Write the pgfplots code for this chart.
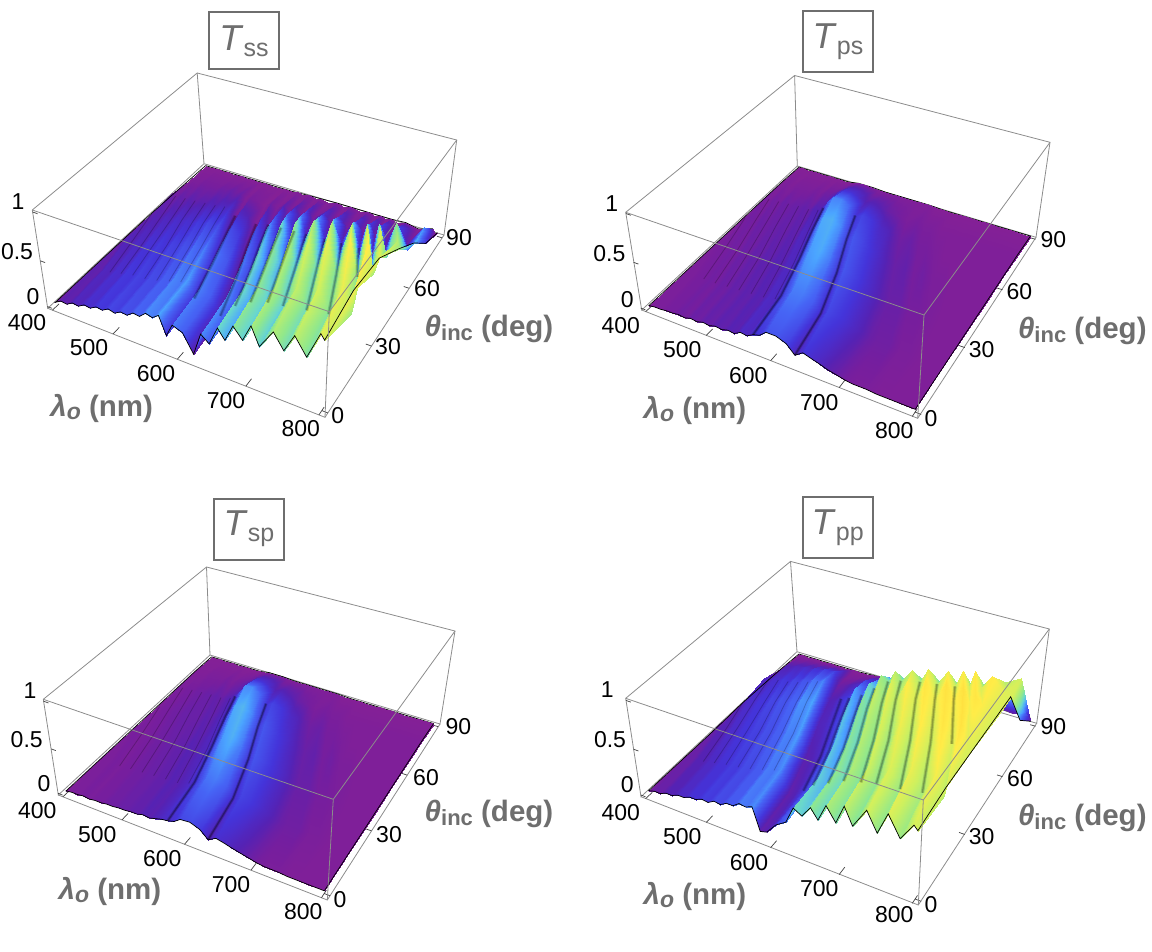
\documentclass[border=0pt]{standalone}
\usepackage{fontspec}
\usepackage{pgfplots}
\usepackage{pgfplotstable}
\pgfplotsset{compat=1.18}
\setmainfont{Liberation Sans}
\definecolor{labgray}{RGB}{110,110,110}
\definecolor{boxgray}{RGB}{140,140,140}

% grid follows the interference fringes: l = wavelength, t = angle, then the four transmittances
\pgfplotstableread{
l t ss ps sp pp
400 90 0 0 0 0
400 90 0 0 0 0
400 90 0 0 0 0
400 90 0 0 0 0
400 90 0 0 0 0
400 90 0 0 0 0
400 90 0 0 0 0
407 90 0 0 0 0
416 90 0 0 0 0
424 90 0 0 0 0
433 90 0 0 0 0
442 90 0 0 0 0
450 90 0 0 0 0
459 90 0 0 0 0
468 90 0 0 0 0
476 90 0 0 0 0
485 90 0 0 0 0
494 90 0 0 0 0
502 90 0 .01 .01 0
511 90 0 .02 .02 0
524 90 0 .02 .02 0
537 90 0 .02 .02 .01
547 90 0 .01 .01 .02
558 90 0 .01 .01 .01
569 90 .01 .01 .01 .02
578 90 0 .01 .01 .01
588 90 .01 .01 .01 .02
599 90 0 .01 .01 .01
610 90 .01 .01 .01 .02
619 90 0 .01 .01 .01
636 90 .02 .01 .01 .02
648 90 0 0 0 .01
660 90 .02 0 0 .03
674 90 0 0 0 .01
688 90 .02 0 0 .03
700 90 0 0 0 .01
710 90 .02 0 0 .04
719 90 0 0 0 .02
727 90 .02 0 0 .05
737 90 0 0 0 .03
750 90 .03 0 0 .06
770 90 0 0 0 .05
792 90 .05 0 0 .10
797 90 0 0 0 .08
800 90 .02 0 0 .02
400 78 .01 .01 .01 .02
400 78 .01 .01 .01 .02
400 78 .01 .01 .01 .02
400 78 .01 .01 .01 .02
400 78 .01 .01 .01 .02
400 78 .01 .01 .01 .02
400 78 .01 .01 .01 .02
409 78 .02 .02 .01 .08
418 78 .02 .01 .01 .08
426 78 .03 .02 .02 .10
435 78 .03 .02 .02 .10
444 78 .03 .02 .02 .12
452 78 .03 .02 .02 .11
461 78 .04 .03 .03 .14
470 78 .04 .02 .02 .14
479 78 .05 .04 .03 .17
487 78 .04 .04 .04 .16
496 78 .05 .06 .06 .18
505 78 .01 .11 .10 .04
513 78 .03 .14 .14 .05
526 78 .02 .14 .14 .08
539 78 0 .12 .12 .11
550 78 .04 .08 .08 .18
560 78 .01 .09 .09 .16
572 78 .07 .08 .08 .24
580 78 .02 .07 .07 .22
591 78 .09 .05 .05 .30
602 78 .02 .04 .04 .28
612 78 .11 .03 .03 .34
622 78 .02 .02 .02 .32
639 78 .12 .03 .03 .38
651 78 .02 .02 .02 .36
663 78 .13 .02 .02 .42
677 78 .03 .01 .01 .40
692 78 .14 .01 .01 .46
703 78 .03 .01 .01 .44
713 78 .16 .01 .01 .50
722 78 .03 .01 .01 .48
730 78 .18 .01 .01 .54
740 78 .04 .01 .01 .52
753 78 .20 .01 .01 .60
773 78 .05 .01 .01 .62
795 78 .30 .01 .01 .70
800 78 .12 .01 .01 .40
800 78 .12 .01 .01 .25
400 66 .02 .01 .01 .03
400 66 .02 .01 .01 .03
400 66 .02 .01 .01 .03
400 66 .02 .01 .01 .03
400 66 .02 .01 .01 .03
401 66 .05 .03 .02 .10
409 66 .04 .02 .02 .10
418 66 .06 .04 .03 .13
427 66 .05 .03 .03 .13
436 66 .07 .05 .04 .16
445 66 .06 .04 .04 .15
454 66 .07 .05 .05 .19
463 66 .07 .05 .05 .18
472 66 .09 .06 .06 .22
481 66 .08 .05 .05 .22
490 66 .10 .08 .07 .27
498 66 .10 .08 .08 .26
507 66 .12 .12 .12 .29
516 66 .03 .22 .21 .08
525 66 .10 .29 .30 .09
538 66 .08 .29 .30 .14
552 66 .01 .25 .25 .18
562 66 .12 .15 .15 .32
573 66 .05 .18 .18 .26
585 66 .19 .16 .16 .42
594 66 .06 .14 .14 .38
604 66 .24 .11 .11 .55
616 66 .07 .09 .09 .50
627 66 .28 .06 .06 .64
636 66 .08 .04 .04 .55
653 66 .31 .05 .05 .70
666 66 .09 .03 .03 .60
678 66 .34 .03 .03 .76
692 66 .10 .02 .02 .63
708 66 .37 .01 .01 .80
719 66 .11 .01 .01 .66
730 66 .40 .01 .01 .84
739 66 .12 .01 .01 .70
747 66 .44 .01 .01 .88
757 66 .14 .01 .01 .72
771 66 .50 .01 .01 .88
791 66 .25 .01 .01 .74
800 66 .35 .01 .01 .72
800 66 .35 .01 .01 .72
800 66 .35 .01 .01 .72
400 52 .03 .01 .01 .04
400 52 .03 .01 .01 .04
400 52 .03 .01 .01 .04
400 52 .03 .01 .01 .04
405 52 .06 .03 .02 .09
414 52 .08 .04 .03 .12
423 52 .07 .03 .03 .12
432 52 .10 .05 .04 .15
442 52 .09 .04 .04 .15
451 52 .12 .05 .05 .19
460 52 .11 .05 .05 .18
469 52 .13 .06 .05 .22
478 52 .12 .05 .05 .21
488 52 .16 .07 .07 .25
497 52 .15 .06 .06 .25
506 52 .19 .10 .08 .31
515 52 .17 .09 .10 .30
524 52 .20 .15 .15 .33
534 52 .08 .26 .25 .09
543 52 .20 .34 .34 .10
557 52 .16 .35 .36 .14
570 52 .03 .30 .30 .20
581 52 .22 .17 .17 .38
592 52 .12 .22 .22 .27
604 52 .34 .19 .19 .50
614 52 .17 .16 .16 .44
625 52 .43 .13 .13 .66
637 52 .20 .10 .10 .55
648 52 .50 .07 .07 .76
658 52 .23 .05 .05 .62
675 52 .56 .06 .06 .85
688 52 .26 .03 .03 .70
701 52 .60 .04 .04 .92
716 52 .28 .02 .02 .75
731 52 .64 .02 .02 .96
743 52 .30 .01 .01 .80
754 52 .68 .01 .01 .97
764 52 .32 .01 .01 .82
772 52 .70 .01 .01 .92
783 52 .42 .01 .01 .84
797 52 .62 .01 .01 .72
800 52 .55 .01 .01 .72
800 52 .55 .01 .01 .72
800 52 .55 .01 .01 .72
800 52 .55 .01 .01 .72
400 36 .03 .01 .01 .03
400 36 .03 .01 .01 .03
401 36 .05 .02 .02 .05
411 36 .09 .03 .03 .08
420 36 .08 .03 .02 .08
430 36 .11 .04 .03 .12
439 36 .10 .03 .03 .12
449 36 .14 .05 .04 .15
458 36 .13 .04 .04 .15
468 36 .16 .06 .05 .18
478 36 .14 .05 .05 .17
487 36 .18 .07 .06 .21
497 36 .17 .06 .06 .20
506 36 .21 .08 .08 .24
516 36 .20 .07 .07 .24
525 36 .26 .10 .09 .29
535 36 .24 .10 .10 .28
544 36 .28 .16 .16 .32
554 36 .12 .26 .25 .07
563 36 .27 .32 .32 .08
578 36 .22 .34 .35 .12
592 36 .04 .28 .28 .22
604 36 .28 .15 .15 .38
615 36 .18 .22 .22 .30
627 36 .42 .19 .19 .50
637 36 .27 .16 .16 .42
648 36 .52 .13 .13 .62
661 36 .33 .10 .10 .50
672 36 .62 .07 .07 .72
683 36 .37 .05 .05 .55
701 36 .70 .05 .05 .80
714 36 .42 .03 .03 .61
728 36 .77 .03 .03 .87
743 36 .46 .02 .02 .67
759 36 .85 .01 .01 .92
772 36 .50 .01 .01 .72
783 36 .88 .01 .01 .96
793 36 .58 .01 .01 .72
800 36 .76 .01 .01 .72
800 36 .76 .01 .01 .72
800 36 .76 .01 .01 .72
800 36 .76 .01 .01 .72
800 36 .76 .01 .01 .72
800 36 .76 .01 .01 .72
800 36 .76 .01 .01 .72
400 18 .03 .01 .01 .03
405 18 .07 .02 .02 .05
415 18 .06 .02 .02 .05
425 18 .10 .03 .03 .08
435 18 .09 .03 .02 .08
445 18 .13 .04 .03 .11
454 18 .12 .03 .03 .11
464 18 .16 .05 .04 .14
474 18 .15 .04 .04 .14
484 18 .18 .06 .05 .17
494 18 .16 .05 .05 .16
504 18 .20 .07 .06 .20
514 18 .19 .06 .06 .19
524 18 .24 .08 .08 .23
534 18 .23 .07 .07 .23
543 18 .29 .11 .09 .28
553 18 .27 .10 .11 .27
563 18 .32 .16 .15 .30
573 18 .14 .22 .21 .06
583 18 .28 .28 .27 .08
598 18 .24 .28 .28 .16
613 18 .05 .24 .24 .26
624 18 .30 .12 .12 .40
636 18 .22 .19 .18 .34
649 18 .43 .16 .16 .52
659 18 .32 .14 .14 .42
671 18 .52 .11 .11 .60
684 18 .38 .08 .08 .47
696 18 .60 .05 .05 .68
706 18 .40 .04 .04 .51
725 18 .65 .04 .04 .73
739 18 .44 .02 .02 .54
753 18 .70 .02 .02 .78
769 18 .48 .01 .01 .58
785 18 .78 .01 .01 .82
798 18 .56 .01 .01 .62
800 18 .80 .01 .01 .72
800 18 .80 .01 .01 .72
800 18 .80 .01 .01 .72
800 18 .80 .01 .01 .72
800 18 .80 .01 .01 .72
800 18 .80 .01 .01 .72
800 18 .80 .01 .01 .72
800 18 .80 .01 .01 .72
800 18 .80 .01 .01 .72
400 0 .03 .01 .01 .03
410 0 .07 .02 .02 .05
420 0 .06 .02 .02 .05
430 0 .10 .03 .03 .08
440 0 .09 .03 .02 .08
450 0 .13 .04 .03 .11
460 0 .12 .03 .03 .11
470 0 .16 .05 .04 .14
480 0 .15 .04 .04 .14
490 0 .19 .06 .05 .17
500 0 .17 .05 .05 .16
510 0 .21 .07 .06 .20
520 0 .20 .06 .06 .19
530 0 .25 .08 .08 .23
540 0 .24 .07 .07 .23
550 0 .30 .11 .09 .28
560 0 .28 .10 .11 .27
570 0 .33 .14 .12 .30
580 0 .14 .16 .14 .06
590 0 .28 .22 .19 .08
605 0 .24 .22 .20 .20
620 0 .05 .18 .16 .27
632 0 .30 .09 .08 .45
644 0 .23 .15 .13 .40
657 0 .43 .12 .11 .52
667 0 .33 .10 .09 .42
679 0 .51 .07 .07 .60
692 0 .40 .05 .05 .46
704 0 .58 .03 .03 .66
715 0 .40 .02 .02 .49
734 0 .60 .02 .02 .70
748 0 .45 .01 .01 .51
762 0 .64 .01 .01 .74
778 0 .47 .01 .01 .54
795 0 .75 .01 .01 .72
800 0 .70 .01 .01 .68
800 0 .70 .01 .01 .68
800 0 .70 .01 .01 .68
800 0 .70 .01 .01 .68
800 0 .70 .01 .01 .68
800 0 .70 .01 .01 .68
800 0 .70 .01 .01 .68
800 0 .70 .01 .01 .68
800 0 .70 .01 .01 .68
800 0 .70 .01 .01 .68
}\grid

% outline of the surface: back (first 15 rows), then right, front, left
\pgfplotstableread{
l t ss ps sp pp
400 90 0 0 0 0
494 90 0 0 0 0
511 90 0 .02 .02 0
537 90 0 .02 .02 .01
558 90 0 .01 .01 .01
588 90 .01 .01 .01 .02
636 90 .02 .01 .01 .02
660 90 .02 0 0 .03
688 90 .02 0 0 .03
727 90 .02 0 0 .05
750 90 .03 0 0 .06
770 90 0 0 0 .05
792 90 .05 0 0 .10
797 90 0 0 0 .08
800 90 .02 0 0 .02
800 78 .12 .01 .01 .25
800 66 .35 .01 .01 .72
800 52 .55 .01 .01 .72
800 36 .76 .01 .01 .72
800 18 .80 .01 .01 .72
800 0 .70 .01 .01 .68
795 0 .75 .01 .01 .72
778 0 .47 .01 .01 .54
762 0 .64 .01 .01 .74
748 0 .45 .01 .01 .51
734 0 .60 .02 .02 .70
715 0 .40 .02 .02 .49
704 0 .58 .03 .03 .66
692 0 .40 .05 .05 .46
679 0 .51 .07 .07 .60
667 0 .33 .10 .09 .42
657 0 .43 .12 .11 .52
644 0 .23 .15 .13 .40
632 0 .30 .09 .08 .45
620 0 .05 .18 .16 .27
605 0 .24 .22 .20 .20
590 0 .28 .22 .19 .08
580 0 .14 .16 .14 .06
570 0 .33 .14 .12 .30
560 0 .28 .10 .11 .27
550 0 .30 .11 .09 .28
540 0 .24 .07 .07 .23
530 0 .25 .08 .08 .23
520 0 .20 .06 .06 .19
510 0 .21 .07 .06 .20
500 0 .17 .05 .05 .16
490 0 .19 .06 .05 .17
480 0 .15 .04 .04 .14
470 0 .16 .05 .04 .14
460 0 .12 .03 .03 .11
450 0 .13 .04 .03 .11
440 0 .09 .03 .02 .08
430 0 .10 .03 .03 .08
420 0 .06 .02 .02 .05
410 0 .07 .02 .02 .05
400 0 .03 .01 .01 .03
400 18 .03 .01 .01 .03
400 36 .03 .01 .01 .03
400 52 .03 .01 .01 .04
400 66 .02 .01 .01 .03
400 78 .01 .01 .01 .02
400 90 0 0 0 0
}\rim

% troughs of the fringes, drawn as soft dark folds
\pgfplotstableread{
l t ss pp
516 66 .03 .08
534 52 .08 .09
554 36 .12 .07
573 18 .14 .06
nan nan nan nan
538 66 .08 .14
557 52 .16 .14
578 36 .22 .12
598 18 .24 .16
nan nan nan nan
552 66 .01 .18
570 52 .03 .20
592 36 .04 .22
613 18 .05 .26
nan nan nan nan
573 66 .05 .26
592 52 .12 .27
615 36 .18 .30
636 18 .22 .34
nan nan nan nan
594 66 .06 .38
614 52 .17 .44
637 36 .27 .42
659 18 .32 .42
nan nan nan nan
616 66 .07 .50
637 52 .20 .55
661 36 .33 .50
684 18 .38 .47
nan nan nan nan
636 66 .08 .55
658 52 .23 .62
683 36 .37 .55
706 18 .40 .51
nan nan nan nan
666 66 .09 .60
688 52 .26 .70
714 36 .42 .61
739 18 .44 .54
nan nan nan nan
692 66 .10 .63
716 52 .28 .75
743 36 .46 .67
769 18 .48 .58
nan nan nan nan
719 66 .11 .66
743 52 .30 .80
772 36 .50 .72
}\foldmain
\pgfplotstableread{
l t ps sp
507 66 .12 .12
524 52 .15 .15
544 36 .16 .16
563 18 .16 .15
570 0 .14 .12
nan nan nan nan
562 66 .15 .15
581 52 .17 .17
604 36 .15 .15
624 18 .12 .12
632 0 .09 .08
}\foldhump
\pgfplotstableread{
l t ss ps sp pp
405 52 .06 .03 .02 .09
420 36 .08 .03 .02 .08
435 18 .09 .03 .02 .08
nan nan nan nan nan nan
409 66 .04 .02 .02 .10
423 52 .07 .03 .03 .12
439 36 .10 .03 .03 .12
454 18 .12 .03 .03 .11
nan nan nan nan nan nan
427 66 .05 .03 .03 .13
442 52 .09 .04 .04 .15
458 36 .13 .04 .04 .15
474 18 .15 .04 .04 .14
nan nan nan nan nan nan
445 66 .06 .04 .04 .15
460 52 .11 .05 .05 .18
478 36 .14 .05 .05 .17
494 18 .16 .05 .05 .16
nan nan nan nan nan nan
463 66 .07 .05 .05 .18
478 52 .12 .05 .05 .21
497 36 .17 .06 .06 .20
514 18 .19 .06 .06 .19
nan nan nan nan nan nan
481 66 .08 .05 .05 .22
497 52 .15 .06 .05 .25
516 36 .20 .07 .07 .24
534 18 .23 .07 .07 .23
nan nan nan nan nan nan
498 66 .10 .08 .08 .26
515 52 .17 .09 .10 .30
535 36 .24 .10 .10 .28
553 18 .27 .10 .11 .27
}\foldlow
% tick marks on the box edges
\pgfplotstableread{
l t z
400 -1.8 -.02
400 1.5 -.02
nan nan nan
500 -1.8 -.02
500 1.5 -.02
nan nan nan
600 -1.8 -.02
600 1.5 -.02
nan nan nan
700 -1.8 -.02
700 1.5 -.02
nan nan nan
800 -1.8 -.02
800 1.5 -.02
nan nan nan
808 0 -.02
800 0 -.02
nan nan nan
808 30 -.02
800 30 -.02
nan nan nan
808 60 -.02
800 60 -.02
nan nan nan
808 90 -.02
800 90 -.02
nan nan nan
392 -1.8 0
400 -1.8 0
nan nan nan
392 -1.8 .5
400 -1.8 .5
nan nan nan
392 -1.8 1
400 -1.8 1
}\ticktab

% perspective of the box, panel by panel: Ax Bx Cx Dx Ay By Cy Dy g h k
% u=(l-392)/416, v=(t+1.8)/93.6, w=(T+.02)/1.04
\newcommand{\setpanel}[1]{\setpanelx#1\relax}
\def\setpanelx#1 #2 #3 #4 #5 #6 #7 #8 #9 {\def\pAx{#1}\def\pBx{#2}\def\pCx{#3}\def\pDx{#4}\def\pAy{#5}\def\pBy{#6}\def\pCy{#7}\def\pDy{#8}\def\pg{#9}\setpanely}
\def\setpanely#1 #2\relax{%
  \edef\xa{\fpeval{round(\pAx/416,7)}}\edef\xb{\fpeval{round(\pBx/93.6,7)}}\edef\xc{\fpeval{round(\pCx/1.04,6)}}%
  \edef\xd{\fpeval{round(\pDx-\pAx*392/416+\pBx*1.8/93.6+\pCx*.02/1.04,6)}}%
  \edef\ya{\fpeval{round(\pAy/416,7)}}\edef\yb{\fpeval{round(\pBy/93.6,7)}}\edef\yc{\fpeval{round(\pCy/1.04,6)}}%
  \edef\yd{\fpeval{round(\pDy-\pAy*392/416+\pBy*1.8/93.6+\pCy*.02/1.04,6)}}%
  \edef\dg{\fpeval{round(\pg/416,9)}}\edef\dh{\fpeval{round((#1)/93.6,8)}}\edef\dk{\fpeval{round((#2)/1.04,7)}}%
  \edef\dn{\fpeval{round(1-\pg*392/416+(#1)*1.8/93.6+(#2)*.02/1.04,7)}}}
\newcommand{\DEN}[1]{((\dg)*\thisrow{l}+(\dh)*\thisrow{t}+(\dk)*\thisrow{#1}+\dn)}
\newcommand{\PX}[1]{((\xa)*\thisrow{l}+(\xb)*\thisrow{t}+(\xc)*\thisrow{#1}+(\xd))/\DEN{#1}}
\newcommand{\PY}[1]{((\ya)*\thisrow{l}+(\yb)*\thisrow{t}+(\yc)*\thisrow{#1}+(\yd))/\DEN{#1}}

\pgfplotsset{
  colormap={tmap}{
    rgb255(0pt)=(132,32,150) rgb255(3pt)=(118,30,158) rgb255(8pt)=(85,34,180)
    rgb255(15pt)=(68,52,218) rgb255(25pt)=(70,100,245) rgb255(33pt)=(75,165,255)
    rgb255(42pt)=(105,215,205) rgb255(52pt)=(145,232,140) rgb255(68pt)=(205,240,95)
    rgb255(85pt)=(255,236,72) rgb255(100pt)=(255,222,62)},
  boxl/.style={boxgray,line width=.8pt,no marks,forget plot},
}

\newcommand{\surface}[1]{%
  \addplot[surf,shader=interp,mesh/rows=7,mesh/cols=45,forget plot,point meta=\thisrow{#1}]
    table[x expr=\PX{#1},y expr=\PY{#1}]{\grid};
}
\newcommand{\rimback}[1]{\addplot[black,line width=.7pt,no marks,forget plot,skip coords between index={15}{200}] table[x expr=\PX{#1},y expr=\PY{#1}]{\rim};}
\newcommand{\rimfront}[1]{\addplot[black,line width=.7pt,no marks,forget plot,skip coords between index={0}{14}] table[x expr=\PX{#1},y expr=\PY{#1}]{\rim};}
% #1 table, #2 series, #3 opacity, #4 width, #5 extra options
\newcommand{\folds}[5]{\addplot[black,no marks,forget plot,unbounded coords=jump,opacity=#3,line width=#4,#5]
   table[x expr=\PX{#2},y expr=\PY{#2}]{#1};}
\newcommand{\ticksall}{\addplot[black!75,line width=.7pt,no marks,forget plot,unbounded coords=jump] table[x expr=\PX{z},y expr=\PY{z}]{\ticktab};}
% corners: left, front, right, back; bottom then top
\newcommand{\boxback}[8]{\addplot[boxl] coordinates {#5 #8 #7 #3 #4 #1 #5};
  \addplot[boxl] coordinates {#4 #8}; \addplot[boxl] coordinates {#1 #2 #3};}
\newcommand{\boxfront}[4]{\addplot[boxl] coordinates {#2 #1 #3}; \addplot[boxl] coordinates {#1 #4};}
\newcommand{\lab}[3]{\node[font=\fontsize{23}{23}\selectfont,text=black,inner sep=0pt] at (axis cs:#1,#2) {#3};}
\newcommand{\lamlab}[2]{\node[font=\fontsize{29.5}{29.5}\selectfont\bfseries,text=labgray,inner sep=0pt] at (axis cs:#1,#2)
  {\textit{λ}\raisebox{-3pt}{\fontsize{23}{23}\selectfont\textit{o}} (nm)};}
\newcommand{\thelab}[2]{\node[font=\fontsize{29.5}{29.5}\selectfont\bfseries,text=labgray,inner sep=0pt] at (axis cs:#1,#2)
  {\textit{θ}\raisebox{-4pt}{\fontsize{22}{22}\selectfont inc} (deg)};}
\newcommand{\ttl}[4]{\node[draw=labgray,line width=2pt,fill=white,inner sep=0pt,minimum width=70pt,minimum height=#4,text=labgray] at (axis cs:#1,#2)
  {\fontsize{36}{36}\selectfont\textit{T}\raisebox{-6pt}{\fontsize{25}{25}\selectfont #3}};}

\begin{document}
\begin{tikzpicture}
\useasboundingbox (0,0) rectangle (1152pt,952pt);
\begin{axis}[at={(0,0)},anchor=south west,scale only axis,width=1152pt,height=952pt,
  xmin=0,xmax=1152,ymin=0,ymax=952,y dir=reverse,hide axis,clip=false,
  colormap name=tmap,point meta min=0,point meta max=1]

% T_ss
\setpanel{237.55 200.38 -17.5 47.7 57.96 -109.22 -111.95 308.3 -.1223 .2161 -.065}
\boxback{(47.7,308.3)}{(325,417.3)}{(444,235)}{(204,163.7)}{(32.3,210)}{(329.3,311.7)}{(456.7,140)}{(197.2,73)}
\ticksall
\rimback{ss}
\surface{ss}
\folds{\foldmain}{ss}{.16}{3.4pt}{skip coords between index={5}{10}}
\folds{\foldmain}{ss}{.22}{1.4pt}{skip coords between index={5}{10}}
\folds{\foldlow}{ss}{.22}{.8pt}{}
\rimfront{ss}
\boxfront{(329.3,311.7)}{(32.3,210)}{(456.7,140)}{(325,417.3)}
\ttl{244}{41}{ss}{57pt}
\lab{18}{202}{1}\lab{17}{252}{0.5}\lab{33}{297}{0}\lab{27}{323}{400}\lab{89}{348}{500}\lab{156}{374}{600}\lab{226}{401}{700}\lab{300.7}{429}{800}
\lab{337.7}{416}{0}\lab{388}{347}{30}\lab{427}{289}{60}\lab{459}{238}{90}
\lamlab{101.7}{408}\thelab{489}{329}

% T_ps
\setpanel{164.99 328.59 -56.06 641 57.78 -108.9 -112.05 309.8 -.1223 .2161 -.065}
\boxback{(641.7,310)}{(917.7,418.3)}{(1036,237.3)}{(797.3,166)}{(625.7,212.3)}{(924,315)}{(1050,142.3)}{(794.6,75.5)}
\ticksall
\rimback{ps}
\surface{ps}
\folds{\foldhump}{ps}{.2}{3pt}{}
\folds{\foldhump}{ps}{.3}{1.2pt}{}
\folds{\foldlow}{ps}{.22}{.8pt}{}
\rimfront{ps}
\boxfront{(924,315)}{(625.7,212.3)}{(1050,142.3)}{(917.7,418.3)}
\ttl{838}{41.5}{ps}{61pt}
\lab{611.7}{204}{1}\lab{609.3}{253.3}{0.5}\lab{627.3}{299.3}{0}\lab{620.7}{326}{400}\lab{682.3}{350}{500}\lab{748.3}{375.7}{600}\lab{819.3}{402.7}{700}\lab{894.3}{430.7}{800}
\lab{931}{418.3}{0}\lab{981.7}{350}{30}\lab{1019.3}{291.7}{60}\lab{1053.3}{240}{90}
\lamlab{695}{410}\thelab{1082.3}{330.7}

% T_sp
\setpanel{231.09 199.23 -17.94 58.3 .76 8.24 -143.25 795 -.11582 .22632 -.068}
\boxback{(58.3,795)}{(327.3,900)}{(440,724)}{(210,655)}{(43.3,699.3)}{(333.3,799.3)}{(455,631)}{(206.5,567)}
\ticksall
\rimback{sp}
\surface{sp}
\folds{\foldhump}{sp}{.2}{3pt}{}
\folds{\foldhump}{sp}{.3}{1.2pt}{}
\folds{\foldlow}{sp}{.22}{.8pt}{}
\rimfront{sp}
\boxfront{(333.3,799.3)}{(43.3,699.3)}{(455,631)}{(327.3,900)}
\ttl{249}{529}{sp}{61pt}
\lab{30}{690.7}{1}\lab{26.7}{739.3}{0.5}\lab{44}{783.3}{0}\lab{37.3}{810.7}{400}\lab{97.3}{835}{500}\lab{162.3}{858.7}{600}\lab{231}{885}{700}\lab{303.3}{911.7}{800}
\lab{340}{900}{0}\lab{389}{835}{30}\lab{426}{777.3}{60}\lab{458.3}{726.7}{90}
\lamlab{110}{891.7}\thelab{489}{814.3}

% T_pp
\setpanel{164.99 328.59 -56.06 641 -1.77 -3.68 -143.7 796.7 -.1223 .2161 -.065}
\boxback{(641,796.7)}{(918.3,905)}{(1036.7,723.3)}{(797,651.7)}{(625.7,698.3)}{(923.3,800)}{(1049.3,629)}{(790.5,561.4)}
\ticksall
\rimback{pp}
\surface{pp}
\folds{\foldmain}{pp}{.16}{3.4pt}{skip coords between index={0}{5}}
\folds{\foldmain}{pp}{.22}{1.4pt}{skip coords between index={0}{5}}
\folds{\foldlow}{pp}{.22}{.8pt}{}
\rimfront{pp}
\boxfront{(923.3,800)}{(625.7,698.3)}{(1049.3,629)}{(918.3,905)}
\ttl{837.7}{527.8}{pp}{61pt}
\lab{607.3}{690}{1}\lab{610}{740}{0.5}\lab{627.3}{785}{0}\lab{620.7}{812.3}{400}\lab{682.3}{836.7}{500}\lab{749}{862.7}{600}\lab{819.3}{889}{700}\lab{894.3}{915}{800}
\lab{931}{904.3}{0}\lab{981.7}{836.7}{30}\lab{1020}{778.3}{60}\lab{1053.3}{726.7}{90}
\lamlab{695}{896.7}\thelab{1082.3}{818.3}

\end{axis}
\end{tikzpicture}
\end{document}
